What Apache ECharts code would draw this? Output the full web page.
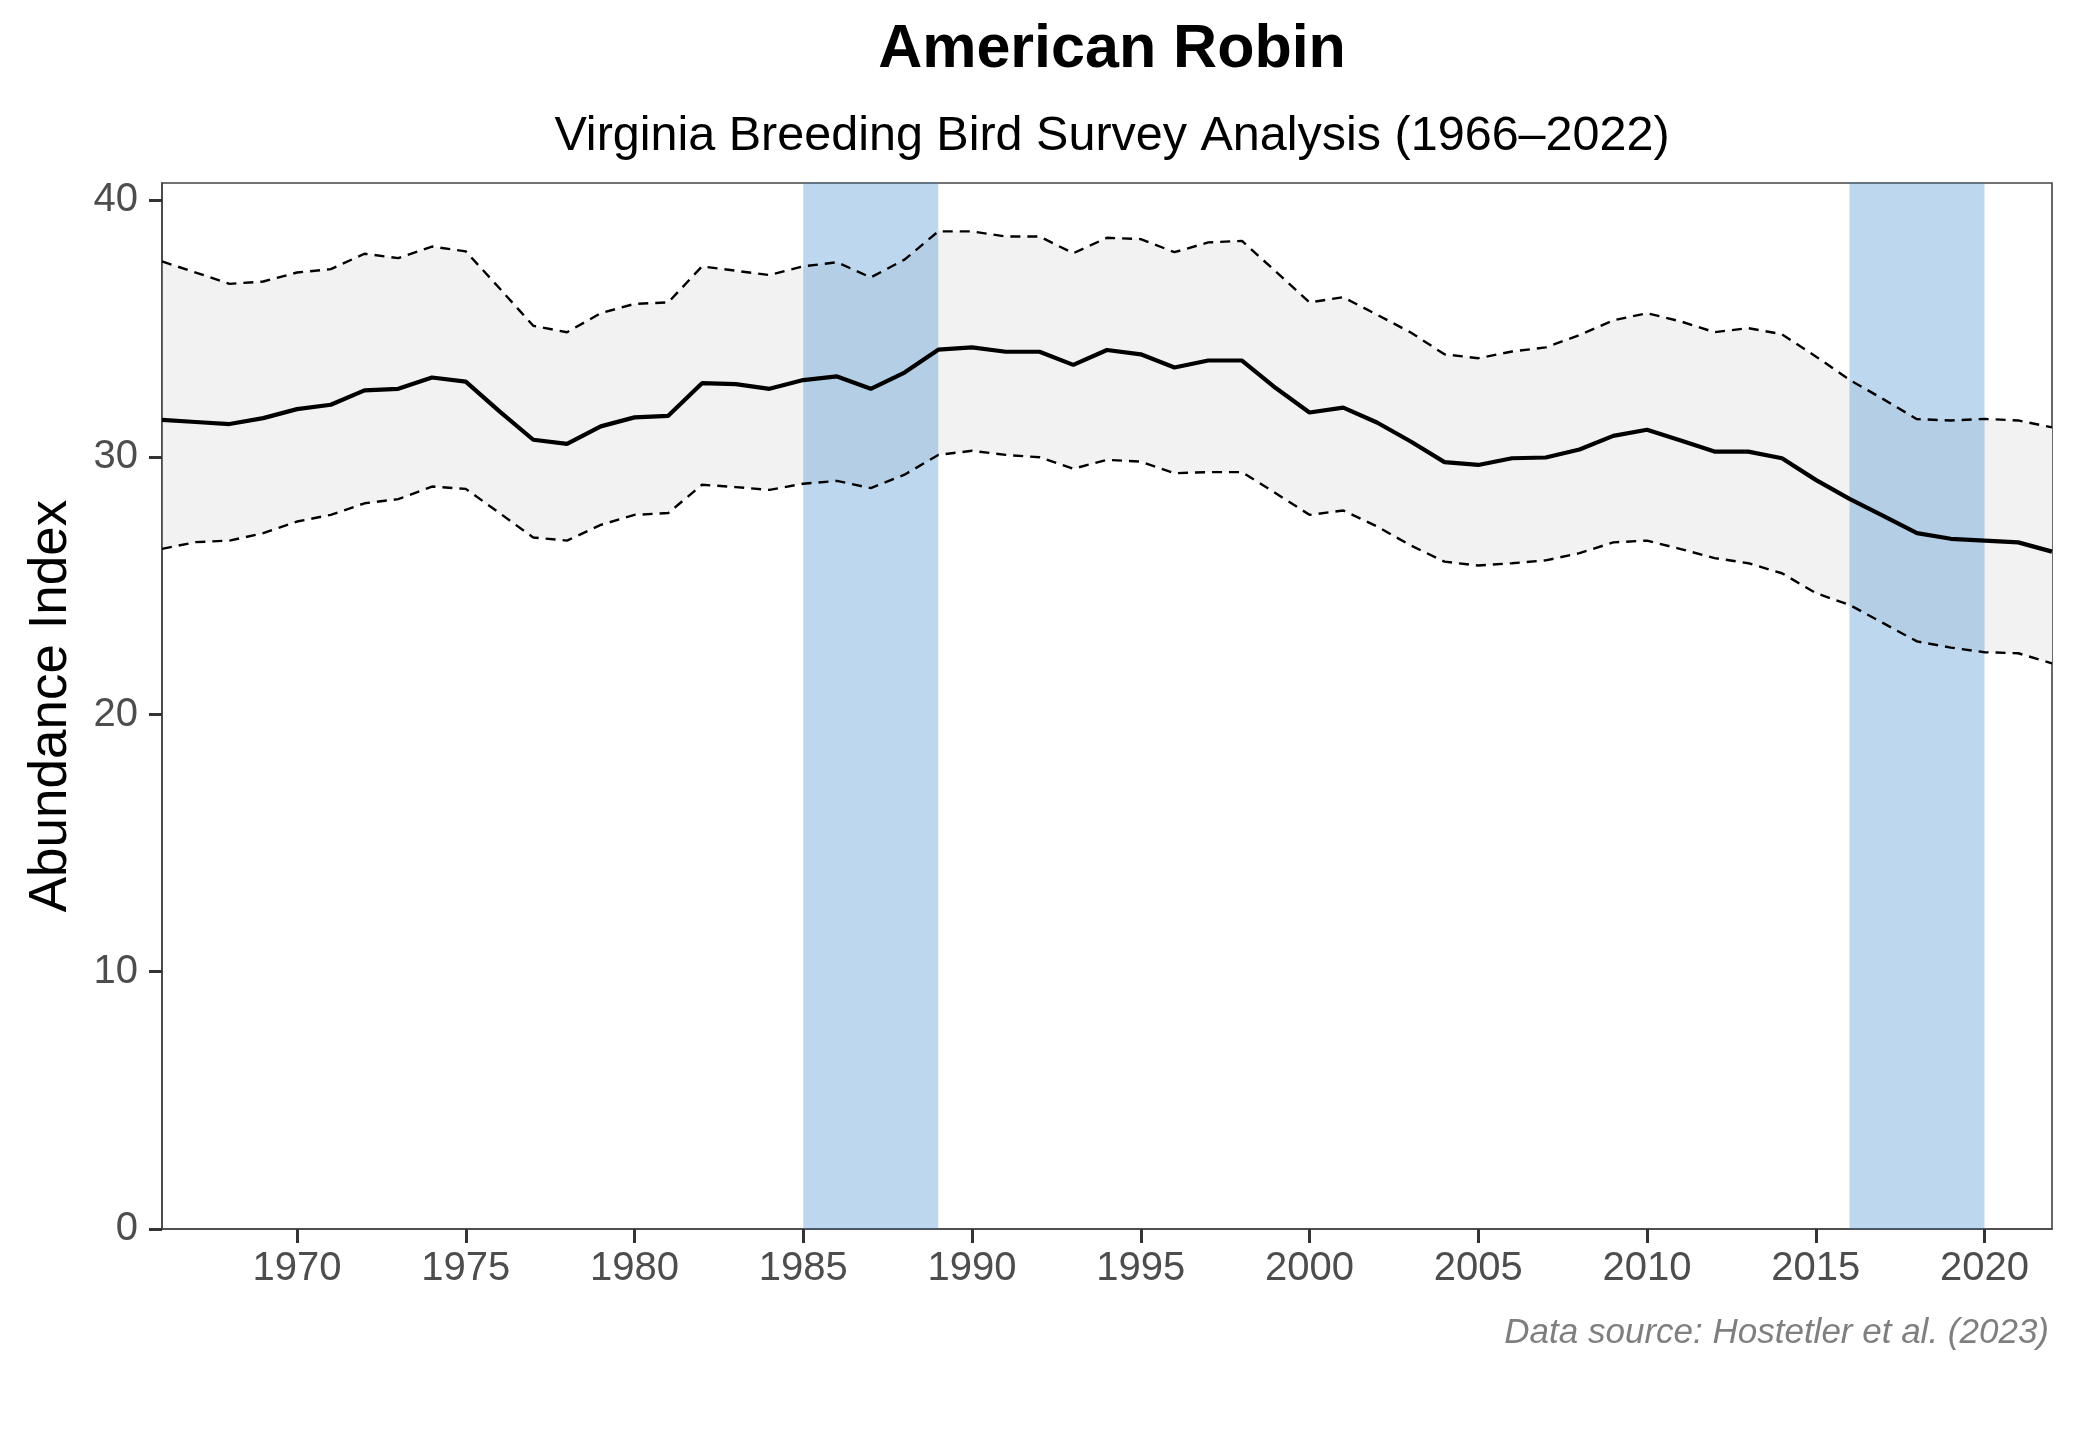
<!DOCTYPE html>
<html>
<head>
<meta charset="utf-8">
<script src="https://cdn.jsdelivr.net/npm/echarts@6/dist/echarts.min.js"></script>
<style>
  html, body { margin: 0; padding: 0; background: #ffffff; }
  #chart { width: 2080px; height: 1440px; }
</style>
</head>
<body>
<div id="chart"></div>
<script>
const years = [1966,1967,1968,1969,1970,1971,1972,1973,1974,1975,1976,1977,1978,1979,1980,1981,1982,1983,1984,1985,1986,1987,1988,1989,1990,1991,1992,1993,1994,1995,1996,1997,1998,1999,2000,2001,2002,2003,2004,2005,2006,2007,2008,2009,2010,2011,2012,2013,2014,2015,2016,2017,2018,2019,2020,2021,2022];
const index = [31.45,31.37,31.29,31.52,31.87,32.04,32.6,32.66,33.1,32.94,31.78,30.68,30.52,31.2,31.55,31.61,32.88,32.84,32.66,33.0,33.14,32.66,33.29,34.18,34.27,34.1,34.1,33.59,34.17,34.0,33.49,33.76,33.76,32.69,31.74,31.93,31.35,30.61,29.81,29.7,29.96,29.99,30.3,30.83,31.07,30.65,30.22,30.22,29.96,29.12,28.38,27.72,27.05,26.83,26.76,26.69,26.33];
const upper = [37.61,37.18,36.74,36.83,37.18,37.31,37.91,37.74,38.19,38.0,36.57,35.11,34.86,35.6,35.96,36.02,37.42,37.25,37.08,37.42,37.58,36.99,37.68,38.78,38.78,38.58,38.58,37.93,38.53,38.48,37.97,38.35,38.41,37.22,36.02,36.22,35.54,34.85,34.0,33.85,34.11,34.27,34.75,35.32,35.6,35.28,34.86,35.02,34.78,33.92,33.01,32.26,31.48,31.43,31.49,31.43,31.16];
const lower = [26.44,26.7,26.76,27.05,27.5,27.76,28.21,28.37,28.86,28.77,27.83,26.88,26.76,27.37,27.76,27.83,28.93,28.84,28.73,28.97,29.08,28.8,29.32,30.09,30.25,30.09,30.0,29.55,29.9,29.83,29.38,29.42,29.42,28.6,27.76,27.93,27.31,26.57,25.94,25.79,25.88,25.99,26.27,26.69,26.76,26.43,26.08,25.88,25.49,24.72,24.26,23.55,22.84,22.6,22.42,22.38,21.99];
const bands = [[1985, 1989], [2016, 2020]];
const xTicks = [1970,1975,1980,1985,1990,1995,2000,2005,2010,2015,2020];
const yTicks = [0,10,20,30,40];
const titleText = 'American Robin';
const subtitleText = 'Virginia Breeding Bird Survey Analysis (1966\u20132022)';
const yAxisTitle = 'Abundance Index';
const captionText = 'Data source: Hostetler et al. (2023)';

const FONT = '"Liberation Sans", Arial, Helvetica, sans-serif';
const pairs = arr => years.map((y, i) => [y, arr[i]]);

const chart = echarts.init(document.getElementById('chart'), null, { renderer: 'canvas' });
chart.setOption({
  backgroundColor: '#ffffff',
  animation: false,
  title: [
    { text: titleText, left: 1107, top: 15, textAlign: 'center',
      textStyle: { fontFamily: FONT, fontSize: 61, fontWeight: 'bold', color: '#000000' } },
    { text: subtitleText, left: 1107, top: 107, textAlign: 'center',
      textStyle: { fontFamily: FONT, fontSize: 48.5, fontWeight: 'normal', color: '#000000' } },
    { text: captionText, right: 26, top: 1311,
      textStyle: { fontFamily: FONT, fontSize: 35, fontStyle: 'italic', fontWeight: 'normal', color: '#7f7f7f' } }
  ],
  grid: { left: 162, right: 28, top: 183, bottom: 211, show: true, borderColor: '#444444', borderWidth: 1.6, backgroundColor: 'transparent' },
  xAxis: {
    type: 'value', min: 1966, max: 2022,
    axisLine: { show: true, onZero: false, lineStyle: { color: '#444444', width: 1.6 } },
    axisTick: { show: true, customValues: xTicks, length: 14, lineStyle: { color: '#333333', width: 3 } },
    axisLabel: { customValues: xTicks, margin: 20, fontFamily: FONT, fontSize: 40, color: '#4d4d4d',
      formatter: v => String(v) },
    splitLine: { show: false }
  },
  yAxis: {
    type: 'value', min: 0, max: 40.66,
    name: yAxisTitle, nameLocation: 'middle', nameGap: 84, nameRotate: 90,
    nameTextStyle: { fontFamily: FONT, fontSize: 53, color: '#000000' },
    axisLine: { show: true, lineStyle: { color: '#444444', width: 1.6 } },
    axisTick: { show: true, customValues: yTicks, length: 13, lineStyle: { color: '#333333', width: 3 } },
    axisLabel: { customValues: yTicks, margin: 24, fontFamily: FONT, fontSize: 40, color: '#4d4d4d',
      formatter: v => String(v) },
    splitLine: { show: false }
  },
  series: [
    { type: 'custom', name: 'ribbon', silent: true, z: 0, clip: true,
      data: [[years[0], lower[0]]],
      renderItem: function (params, api) {
        const pts = [];
        for (let i = 0; i < years.length; i++) pts.push(api.coord([years[i], upper[i]]));
        for (let i = years.length - 1; i >= 0; i--) pts.push(api.coord([years[i], lower[i]]));
        return { type: 'polygon', shape: { points: pts }, style: { fill: '#f2f2f2' } };
      } },
    { type: 'line', name: 'bands', data: [], z: 2, silent: true,
      markArea: { silent: true, z: 2, itemStyle: { color: 'rgba(42,126,200,0.31)' },
        data: bands.map(b => [{ xAxis: b[0] }, { xAxis: b[1] }]) } },
    { type: 'line', name: 'upper', data: pairs(upper), symbol: 'none', z: 3,
      lineStyle: { color: '#000000', width: 2.4, type: [10, 7] } },
    { type: 'line', name: 'lower', data: pairs(lower), symbol: 'none', z: 3,
      lineStyle: { color: '#000000', width: 2.4, type: [10, 7] } },
    { type: 'line', name: 'index', data: pairs(index), symbol: 'none', z: 4,
      lineStyle: { color: '#000000', width: 4.2 } }
  ]
});
</script>
</body>
</html>
